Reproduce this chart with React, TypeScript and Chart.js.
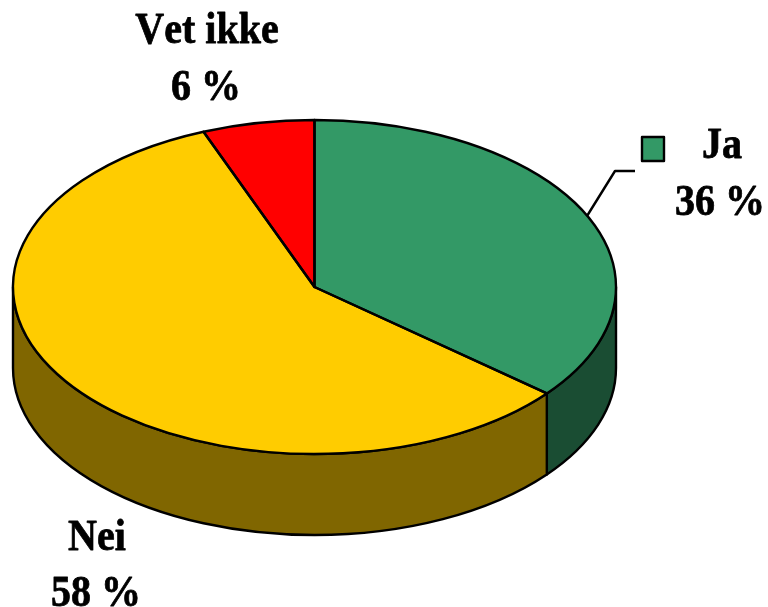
import React, { useEffect, useRef } from "react";
import { Chart, registerables } from "chart.js";

Chart.register(...registerables);

const categories = ["Ja", "Nei", "Vet ikke"];
const shares = [36, 58, 6];
const topColors = ["#339966", "#FFCC00", "#FF0000"];
const wallColors = ["#1A4D33", "#806600", "#800000"];

const WIDTH = 768;
const HEIGHT = 607;
const SQUASH = 167 / 301.5;
const CENTER_Y = 287;
const DEPTH = 81;
const TEXT_STRETCH = 1.1;

// [name x, name baseline, value x, value baseline], one per category
const labelSpots = [
  [722, 158, 720, 215],
  [97, 550, 96, 606],
  [207, 43, 206, 100],
];

function arcs(chart: any) {
  return chart.getDatasetMeta(0).data.map((el: any) =>
    el.getProps(["x", "startAngle", "endAngle", "outerRadius"], true)
  );
}

const pie3d = {
  id: "pie3d",
  beforeDatasetsDraw(chart: any) {
    const ctx = chart.ctx;
    arcs(chart).forEach((a: any, i: number) => {
      const from = Math.max(a.startAngle, 0);
      const to = Math.min(a.endAngle, Math.PI);
      if (from >= to) return;
      const ry = a.outerRadius * SQUASH;
      ctx.save();
      ctx.beginPath();
      ctx.ellipse(a.x, CENTER_Y, a.outerRadius, ry, 0, from, to);
      ctx.ellipse(a.x, CENTER_Y + DEPTH, a.outerRadius, ry, 0, to, from, true);
      ctx.closePath();
      ctx.fillStyle = wallColors[i];
      ctx.fill();
      ctx.lineWidth = 2.4;
      ctx.lineJoin = "round";
      ctx.strokeStyle = "#000";
      ctx.stroke();
      ctx.restore();
    });
  },
  beforeDatasetDraw(chart: any) {
    const ctx = chart.ctx;
    const a = arcs(chart)[0];
    const y = chart.getDatasetMeta(0).data[0].y;
    ctx.save();
    ctx.translate(a.x, CENTER_Y);
    ctx.scale(1, SQUASH);
    ctx.translate(-a.x, -y);
  },
  afterDatasetDraw(chart: any) {
    chart.ctx.restore();
  },
  afterDatasetsDraw(chart: any) {
    const ctx = chart.ctx;
    const list = arcs(chart);
    ctx.save();
    ctx.lineWidth = 2.4;
    ctx.lineJoin = "round";
    ctx.strokeStyle = "#000";
    list.forEach((a: any) => {
      ctx.beginPath();
      ctx.moveTo(a.x, CENTER_Y);
      ctx.ellipse(a.x, CENTER_Y, a.outerRadius, a.outerRadius * SQUASH, 0, a.startAngle, a.endAngle);
      ctx.closePath();
      ctx.stroke();
    });

    // leader line and key swatch for the first category
    ctx.beginPath();
    ctx.moveTo(587, 216);
    ctx.lineTo(615, 171);
    ctx.lineTo(635, 171);
    ctx.stroke();
    ctx.fillStyle = topColors[0];
    ctx.fillRect(642, 137, 22, 24);
    ctx.strokeRect(642, 137, 22, 24);

    ctx.fillStyle = "#000";
    ctx.strokeStyle = "#000";
    ctx.lineWidth = 0.7;
    ctx.font = 'bold 40px "Liberation Serif"';
    ctx.fontKerning = "none";
    ctx.textAlign = "center";
    ctx.textBaseline = "alphabetic";
    const put = (s: string, x: number, y: number) => {
      ctx.save();
      ctx.translate(x, y);
      ctx.scale(1, TEXT_STRETCH);
      ctx.fillText(s, 0, 0);
      ctx.strokeText(s, 0, 0);
      ctx.restore();
    };
    categories.forEach((name, i) => {
      const [nx, ny, vx, vy] = labelSpots[i];
      put(name, nx, ny);
      put(`${shares[i]} %`, vx, vy);
    });
    ctx.restore();
  },
};

export default function App() {
  const ref = useRef<HTMLCanvasElement>(null);
  useEffect(() => {
    document.body.style.margin = "0";
    const chart = new Chart(ref.current!, {
      type: "pie",
      data: {
        labels: categories,
        datasets: [{ data: shares, backgroundColor: topColors, borderWidth: 0 }],
      },
      options: {
        responsive: false,
        animation: false,
        devicePixelRatio: 1,
        layout: { padding: { left: 13, right: 152, top: 2, bottom: 2 } },
        events: [],
        plugins: { legend: { display: false }, tooltip: { enabled: false } },
      },
      plugins: [pie3d],
    } as any);
    return () => chart.destroy();
  }, []);
  return <canvas ref={ref} width={WIDTH} height={HEIGHT} style={{ display: "block" }} />;
}
